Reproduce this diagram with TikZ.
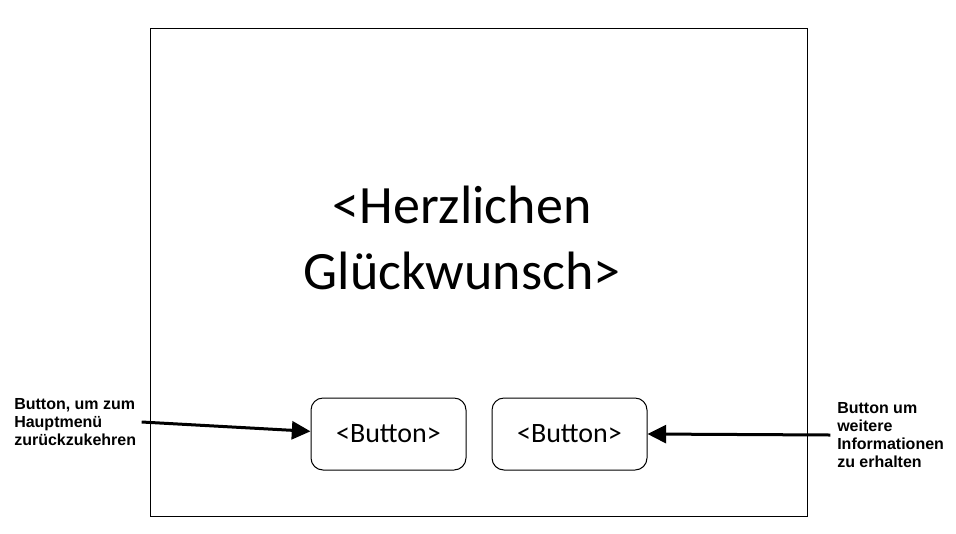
\documentclass[tikz,border=0pt]{standalone}
\usepackage{fontspec}
\usepackage{tikz}
\usetikzlibrary{arrows.meta}
\newfontfamily\calfont{Carlito}
\newfontfamily\arialfont{Liberation Sans}
\tikzset{
	knopf/.style={draw, line width=0.75pt, rounded corners=9pt, minimum width=116.25pt, minimum height=54pt, inner sep=0pt, font=\calfont\fontsize{21}{25}\selectfont},
	notiz/.style={inner sep=0pt, align=left, font=\arialfont\bfseries\fontsize{12}{13.5}\selectfont},
	pfeil/.style={line width=2.25pt, -{Triangle[length=14pt,width=13.5pt]}}
}

\begin{document}
\begin{tikzpicture}[x=0.75pt, y=-0.75pt]
		%%%%% START %%%%%
		\useasboundingbox (0, 0) rectangle (956, 533);
		
		% bildschirm
		\draw[line width=0.75pt] (150, 28) rectangle (807, 516);
		
		\node[align=center, inner sep=0pt, font=\calfont\fontsize{40.5}{50}\selectfont] (titel) at (462, 238) {<Herzlichen\\Glückwunsch>};
		
		\node[knopf] (btnL) at (388.5, 434) {<Button>};
		\node[knopf] (btnR) at (569.5, 434) {<Button>};
		
		\node[notiz, anchor=west] (lblL) at (14, 422) {Button, um zum\\Hauptmenü\\zurückzukehren};
		\node[notiz, anchor=west] (lblR) at (837, 435) {Button um\\weitere\\Informationen\\zu erhalten};
		
		\draw[pfeil] ([xshift=4pt]lblL.east) -- ([yshift=2pt]btnL.west);
		\draw[pfeil] ([xshift=-5pt]lblR.west) -- (btnR.east);
		%%%%% END %%%%%
\end{tikzpicture}
\end{document}
